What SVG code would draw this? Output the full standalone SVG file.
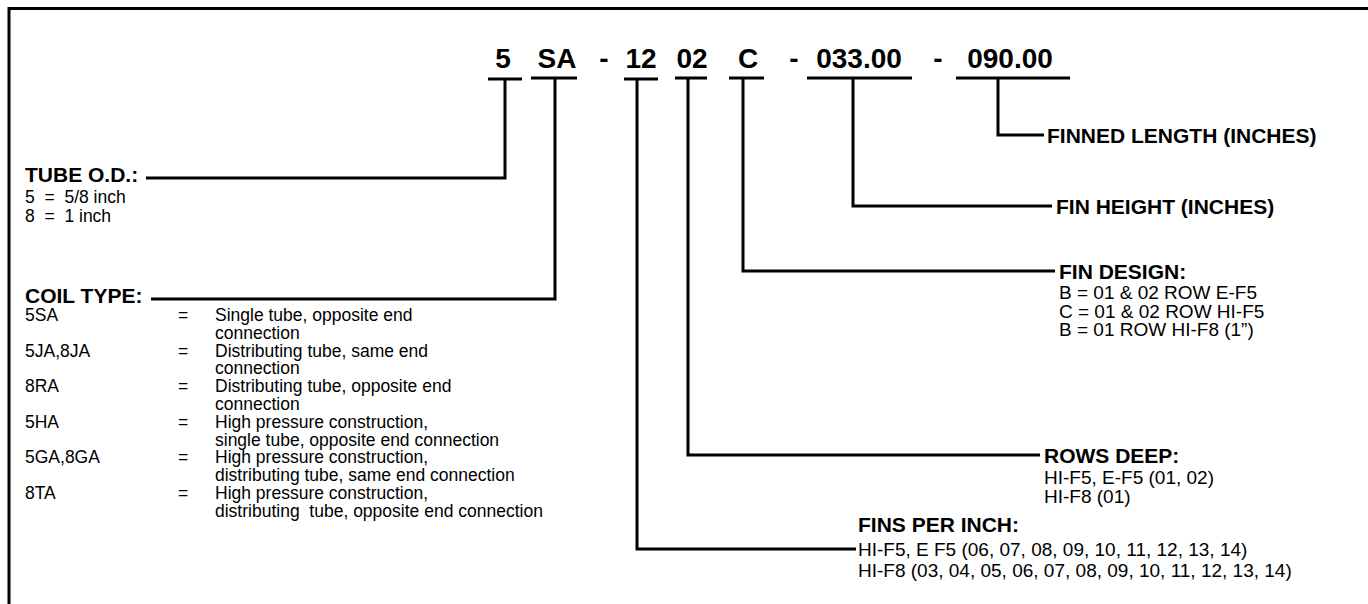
<svg xmlns="http://www.w3.org/2000/svg" width="1368" height="604" viewBox="0 0 1368 604">
<style>
.code{font-family:"Liberation Sans",Arial,sans-serif;font-weight:bold;font-size:28px;fill:#000;text-anchor:middle}
.hd{font-family:"Liberation Sans",Arial,sans-serif;font-weight:bold;font-size:21px;fill:#000}
.lt{font-family:"Liberation Sans",Arial,sans-serif;font-size:17.5px;fill:#000}
.rt{font-family:"Liberation Sans",Arial,sans-serif;font-size:19px;fill:#000}
.ln{stroke:#000;stroke-width:3;fill:none}
</style>
<rect width="1368" height="604" fill="#fff"/>
<path class="ln" d="M9,604 V8.5 H1368"/>
<g id="code">
<text class="code" x="503" y="68">5</text>
<text class="code" x="557" y="68">SA</text>
<text class="code" x="604" y="68">-</text>
<text class="code" x="641" y="68">12</text>
<text class="code" x="692" y="68">02</text>
<text class="code" x="748" y="68">C</text>
<text class="code" x="794" y="68">-</text>
<text class="code" x="859" y="68">033.00</text>
<text class="code" x="938" y="68">-</text>
<text class="code" x="1010" y="68">090.00</text>
</g>
<g id="connectors">
<path class="ln" d="M488,79 H522 M505,79 V178 H146"/>
<path class="ln" d="M531,78 H577 M555,78 V299 H151"/>
<path class="ln" d="M624,79 H658 M637,79 V549 H856"/>
<path class="ln" d="M675,78 H707 M688,78 V455 H1040"/>
<path class="ln" d="M729,78 H764 M743,78 V271 H1055"/>
<path class="ln" d="M807,78 H912 M853,78 V206 H1052"/>
<path class="ln" d="M956,78 H1070 M998,78 V135 H1044"/>
</g>
<g id="tube-od">
<text class="hd" x="25" y="182">TUBE O.D.:</text>
<text class="lt" x="25" y="203" xml:space="preserve">5  =  5/8 inch</text>
<text class="lt" x="25" y="222" xml:space="preserve">8  =  1 inch</text>
</g>
<g id="coil-type">
<text class="hd" x="25" y="303">COIL TYPE:</text>
<text class="lt" x="25" y="321">5SA</text><text class="lt" x="178" y="321">=</text><text class="lt" x="215" y="321">Single tube, opposite end</text>
<text class="lt" x="215" y="338.8">connection</text>
<text class="lt" x="25" y="356.6">5JA,8JA</text><text class="lt" x="178" y="356.6">=</text><text class="lt" x="215" y="356.6">Distributing tube, same end</text>
<text class="lt" x="215" y="374.4">connection</text>
<text class="lt" x="25" y="392.2">8RA</text><text class="lt" x="178" y="392.2">=</text><text class="lt" x="215" y="392.2">Distributing tube, opposite end</text>
<text class="lt" x="215" y="410">connection</text>
<text class="lt" x="25" y="427.8">5HA</text><text class="lt" x="178" y="427.8">=</text><text class="lt" x="215" y="427.8">High pressure construction,</text>
<text class="lt" x="215" y="445.6">single tube, opposite end connection</text>
<text class="lt" x="25" y="463.4">5GA,8GA</text><text class="lt" x="178" y="463.4">=</text><text class="lt" x="215" y="463.4">High pressure construction,</text>
<text class="lt" x="215" y="481.2">distributing tube, same end connection</text>
<text class="lt" x="25" y="499">8TA</text><text class="lt" x="178" y="499">=</text><text class="lt" x="215" y="499">High pressure construction,</text>
<text class="lt" x="215" y="516.8" xml:space="preserve">distributing  tube, opposite end connection</text>
</g>
<g id="finned-length">
<text class="hd" x="1047" y="143">FINNED LENGTH (INCHES)</text>
</g>
<g id="fin-height">
<text class="hd" x="1056" y="214">FIN HEIGHT (INCHES)</text>
</g>
<g id="fin-design">
<text class="hd" x="1059" y="279">FIN DESIGN:</text>
<text class="rt" x="1059" y="299">B = 01 &amp; 02 ROW E-F5</text>
<text class="rt" x="1059" y="317.5">C = 01 &amp; 02 ROW HI-F5</text>
<text class="rt" x="1059" y="336">B = 01 ROW HI-F8 (1”)</text>
</g>
<g id="rows-deep">
<text class="hd" x="1044" y="463">ROWS DEEP:</text>
<text class="rt" x="1044" y="484">HI-F5, E-F5 (01, 02)</text>
<text class="rt" x="1044" y="503">HI-F8 (01)</text>
</g>
<g id="fins-per-inch">
<text class="hd" x="858" y="532">FINS PER INCH:</text>
<text class="rt" x="858" y="556">HI-F5, E F5 (06, 07, 08, 09, 10, 11, 12, 13, 14)</text>
<text class="rt" x="858" y="577">HI-F8 (03, 04, 05, 06, 07, 08, 09, 10, 11, 12, 13, 14)</text>
</g>
</svg>
